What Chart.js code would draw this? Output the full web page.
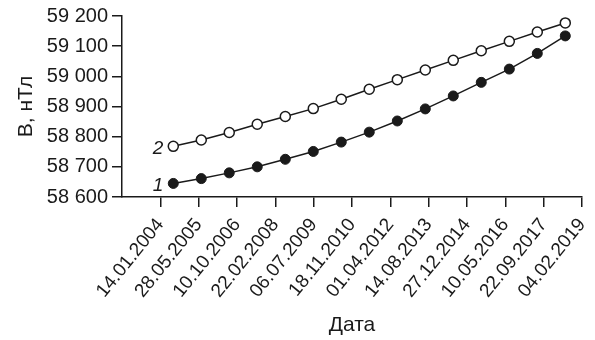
<!DOCTYPE html>
<html>
<head>
<meta charset="utf-8">
<script src="https://cdn.jsdelivr.net/npm/chart.js@4.4.1/dist/chart.umd.min.js"></script>
<style>
  html, body { margin: 0; padding: 0; background: #fff; }
  #wrap { width: 595px; height: 340px; }
</style>
</head>
<body>
<div id="wrap"><canvas id="chart" width="595" height="340"></canvas></div>
<script>
// measurement dates (mid-year), yyyy-mm-dd
const pointDates = [
  '2004-07-01', '2005-07-01', '2006-07-01', '2007-07-01', '2008-07-01',
  '2009-07-01', '2010-07-01', '2011-07-01', '2012-07-01', '2013-07-01',
  '2014-07-01', '2015-07-01', '2016-07-01', '2017-07-01', '2018-07-01'
];
// curve 1 (filled markers) and curve 2 (open markers), nT
const series1 = [58645, 58661, 58680, 58700, 58725, 58751, 58782, 58815, 58852, 58892, 58935, 58980, 59024, 59076, 59134];
const series2 = [58768, 58789, 58814, 58841, 58867, 58893, 58924, 58957, 58989, 59021, 59053, 59085, 59116, 59147, 59177];
// x tick labels (every 500 days)
const tickDates = [
  '2004-01-14', '2005-05-28', '2006-10-10', '2008-02-22', '2009-07-06', '2010-11-18',
  '2012-04-01', '2013-08-14', '2014-12-27', '2016-05-10', '2017-09-22', '2019-02-04'
];
const tickLabels = [
  '14.01.2004', '28.05.2005', '10.10.2006', '22.02.2008', '06.07.2009', '18.11.2010',
  '01.04.2012', '14.08.2013', '27.12.2014', '10.05.2016', '22.09.2017', '04.02.2019'
];
const yMin = 58600, yMax = 59200, yStep = 100;

function dayNum(s) {
  const p = s.split('-').map(Number);
  return Date.UTC(p[0], p[1] - 1, p[2]) / 86400000;
}

const ink = '#1a1a1a';
const font = 'Liberation Sans, Arial, sans-serif';

// curve numbers next to the first point of each line
const curveLabels = {
  id: 'curveLabels',
  afterDatasetsDraw(chart) {
    const ctx = chart.ctx;
    ctx.save();
    ctx.font = 'italic 19px ' + font;
    ctx.fillStyle = ink;
    ctx.textAlign = 'right';
    ctx.textBaseline = 'middle';
    chart.data.datasets.forEach((ds, i) => {
      const pt = chart.getDatasetMeta(i).data[0];
      ctx.fillText(ds.label, pt.x - 10, pt.y + 2);
    });
    ctx.restore();
  }
};

new Chart(document.getElementById('chart'), {
  type: 'line',
  data: {
    datasets: [
      {
        label: '1',
        data: pointDates.map((d, i) => ({ x: dayNum(d), y: series1[i] })),
        borderColor: ink,
        borderWidth: 1.5,
        pointRadius: 5,
        pointBackgroundColor: ink,
        pointBorderColor: ink,
        pointBorderWidth: 1,
        tension: 0
      },
      {
        label: '2',
        data: pointDates.map((d, i) => ({ x: dayNum(d), y: series2[i] })),
        borderColor: ink,
        borderWidth: 1.5,
        pointRadius: 5,
        pointBackgroundColor: '#fff',
        pointBorderColor: ink,
        pointBorderWidth: 1.5,
        tension: 0
      }
    ]
  },
  options: {
    responsive: false,
    animation: false,
    layout: { padding: { top: 7, right: 13, left: 14, bottom: 0 } },
    plugins: {
      legend: { display: false },
      tooltip: { enabled: false }
    },
    scales: {
      x: {
        type: 'linear',
        min: dayNum(tickDates[0]) - 500,
        max: dayNum(tickDates[tickDates.length - 1]),
        afterBuildTicks: scale => {
          scale.ticks = tickDates.map(d => ({ value: dayNum(d) }));
        },
        afterFit: scale => {
          scale.height = 143;
          scale.paddingRight = 0;
        },
        border: { display: true, color: ink, width: 1.5 },
        grid: { drawOnChartArea: false, drawTicks: true, tickLength: 10, color: ink, lineWidth: 1.5 },
        ticks: {
          autoSkip: false,
          minRotation: 51,
          maxRotation: 51,
          padding: 7,
          color: ink,
          font: { family: font, size: 19 },
          callback: (v, i) => tickLabels[i]
        },
        title: {
          display: true,
          text: 'Дата',
          color: ink,
          font: { family: font, size: 21 },
          padding: { top: 0, bottom: 2 }
        }
      },
      y: {
        min: yMin,
        max: yMax,
        afterFit: scale => { scale.width = 108; },
        ticks: {
          stepSize: yStep,
          color: ink,
          padding: 4,
          font: { family: font, size: 20 },
          callback: v => String(v).replace(/(\d{2})(\d{3})$/, '$1 $2')
        },
        border: { display: true, color: ink, width: 1.5 },
        grid: { drawOnChartArea: false, drawTicks: true, tickLength: 10, color: ink, lineWidth: 1.5 },
        title: {
          display: true,
          text: 'B, нТл',
          color: ink,
          font: { family: font, size: 21 },
          padding: { top: 0, bottom: 2 }
        }
      }
    }
  },
  plugins: [curveLabels]
});
</script>
</body>
</html>
